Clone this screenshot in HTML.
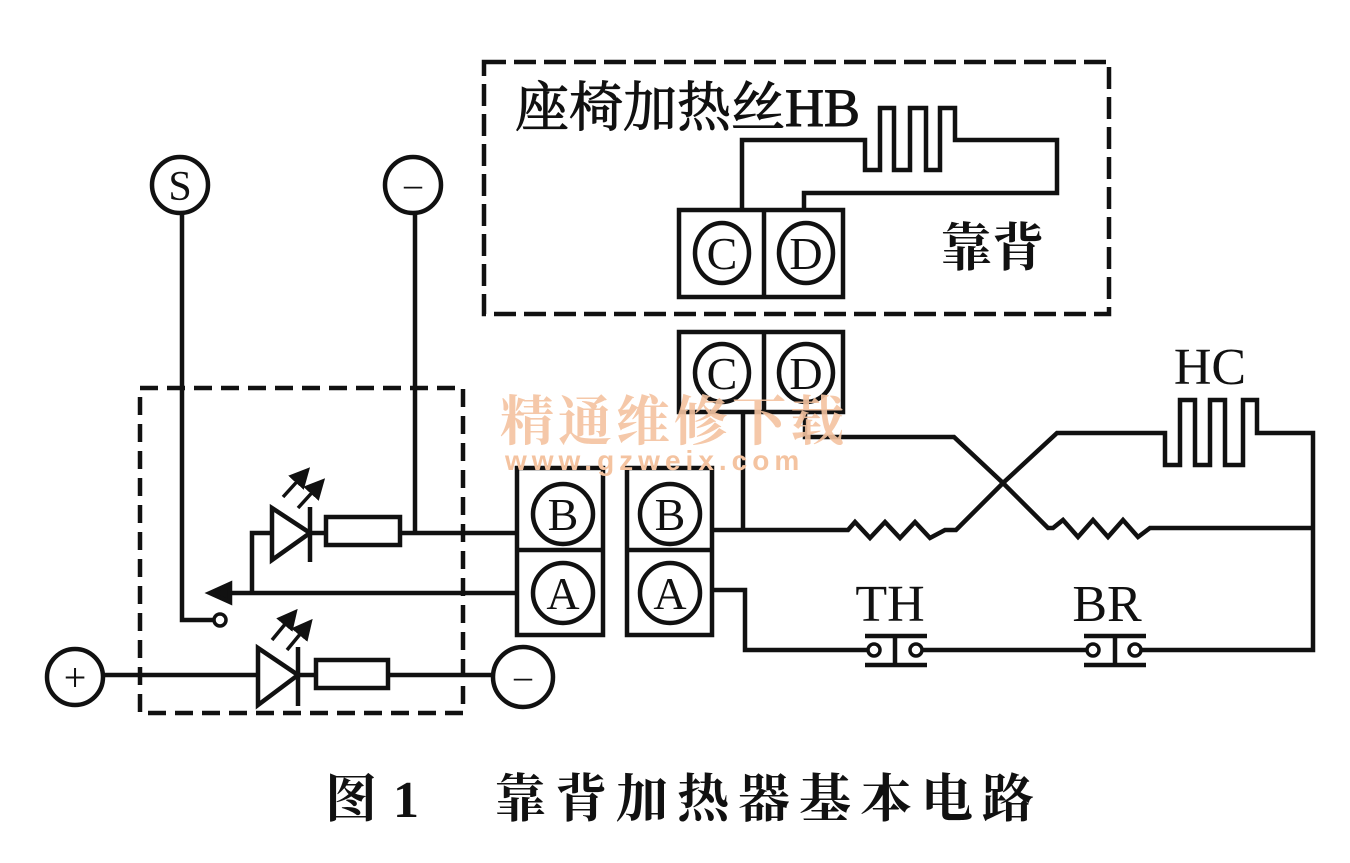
<!DOCTYPE html>
<html><head><meta charset="utf-8"><style>
html,body{margin:0;padding:0;background:#fff;}
svg{display:block;}
.cjk{font-family:"Liberation Serif","Noto Serif CJK SC","Noto Sans CJK SC",serif;}
.ser{font-family:"Liberation Serif",serif;}
</style></head><body>
<svg width="1350" height="863" viewBox="0 0 1350 863" xmlns="http://www.w3.org/2000/svg">
<defs><marker id="ah" markerWidth="6" markerHeight="6" refX="3" refY="3" orient="auto" markerUnits="strokeWidth"><path d="M0,0 L6,3 L0,6 z" fill="#111"/></marker></defs>
<g fill="none" stroke="#111" stroke-width="4.5" stroke-linejoin="miter">
<rect x="484" y="62" width="625" height="252" stroke-dasharray="22,8"/>
<polyline points="742,210 742,140 865,140 865,170 880,170 880,108 894,108 894,170 910,170 910,108 926,108 926,170 940,170 940,108 955,108 955,140 1057,140 1057,193 804,193 804,210"/>
<rect x="679" y="210" width="164" height="87"/>
<line x1="764" y1="210" x2="764" y2="297"/>
<ellipse cx="722" cy="253" rx="27" ry="30"/>
<ellipse cx="806" cy="253" rx="27" ry="30"/>
<rect x="679" y="332" width="164" height="80"/>
<line x1="764" y1="332" x2="764" y2="412"/>
<ellipse cx="722" cy="373" rx="27" ry="29"/>
<ellipse cx="806" cy="373" rx="27" ry="29"/>
<rect x="140" y="388" width="323" height="325" stroke-dasharray="18,9"/>
<circle cx="180" cy="185" r="28"/>
<circle cx="413" cy="185" r="28"/>
<polyline points="182,213 182,620 213,620"/>
<circle cx="220" cy="620" r="6" stroke-width="3.5"/>
<line x1="415" y1="213" x2="415" y2="533"/>
<line x1="225" y1="593" x2="518" y2="593"/>
<polygon points="210,593 230,584 230,602" fill="#111"/>
<polyline points="252,593 252,533 272,533"/>
<polygon points="272,508 310,533 272,560" />
<line x1="310" y1="507" x2="310" y2="562"/>
<line x1="310" y1="533" x2="326" y2="533"/>
<rect x="326" y="517" width="74" height="28"/>
<line x1="400" y1="533" x2="518" y2="533"/>
<g stroke-width="3.5" marker-end="url(#ah)">
<line x1="283" y1="497" x2="303" y2="475"/>
<line x1="298" y1="508" x2="318" y2="486"/>
<line x1="272" y1="640" x2="291" y2="617"/>
<line x1="287" y1="650" x2="306" y2="627"/>
</g>
<circle cx="75" cy="677" r="28"/>
<line x1="103" y1="675" x2="258" y2="675"/>
<polygon points="258,648 298,675 258,705"/>
<line x1="298" y1="647" x2="298" y2="706"/>
<line x1="298" y1="675" x2="316" y2="675"/>
<rect x="316" y="660" width="72" height="28"/>
<line x1="388" y1="675" x2="493" y2="675"/>
<circle cx="523" cy="677" r="30"/>
<rect x="517" y="468" width="86" height="167"/>
<line x1="517" y1="550" x2="603" y2="550"/>
<circle cx="563" cy="514" r="30"/>
<circle cx="563" cy="593" r="30"/>
<rect x="627" y="468" width="85" height="167"/>
<line x1="627" y1="550" x2="712" y2="550"/>
<circle cx="670" cy="514" r="30"/>
<circle cx="670" cy="593" r="30"/>
<line x1="743" y1="412" x2="743" y2="530"/>
<polyline points="805,412 805,437 954,437 1003,483 1048,528 1053,528 1063,520 1078,537 1093,520 1108,537 1123,520 1138,537 1150,528 1313,528"/>
<polyline points="712,530 848,530 855,522 870,538 885,522 900,538 915,522 930,538 945,530 956,530 1003,483 1057,433 1165,433 1165,465 1180,465 1180,400 1195,400 1195,465 1210,465 1210,400 1225,400 1225,465 1243,465 1243,400 1257,400 1257,433 1313,433 1313,650 1140,650"/>
<polyline points="712,590 745,590 745,650 868,650"/>
<line x1="922" y1="650" x2="1088" y2="650"/>
<circle cx="874" cy="650" r="6" stroke-width="3.5"/>
<circle cx="916" cy="650" r="6" stroke-width="3.5"/>
<line x1="865" y1="636" x2="927" y2="636"/>
<line x1="865" y1="665" x2="927" y2="665"/>
<line x1="895" y1="636" x2="895" y2="665"/>
<circle cx="1093" cy="650" r="6" stroke-width="3.5"/>
<circle cx="1135" cy="650" r="6" stroke-width="3.5"/>
<line x1="1084" y1="636" x2="1146" y2="636"/>
<line x1="1084" y1="665" x2="1146" y2="665"/>
<line x1="1115" y1="636" x2="1115" y2="665"/>
</g>
<g fill="#111" class="ser" text-anchor="middle">
<text x="180" y="200" font-size="42">S</text>
<text x="413" y="196" font-size="36">–</text>
<text x="75" y="691" font-size="40">+</text>
<text x="523" y="688" font-size="36">–</text>
<text x="722" y="269" font-size="46">C</text>
<text x="806" y="269" font-size="46">D</text>
<text x="722" y="389" font-size="46">C</text>
<text x="806" y="389" font-size="46">D</text>
<text x="563" y="530" font-size="46">B</text>
<text x="563" y="609" font-size="46">A</text>
<text x="670" y="530" font-size="46">B</text>
<text x="670" y="609" font-size="46">A</text>
<text x="890" y="621" font-size="52">TH</text>
<text x="1107" y="621" font-size="52">BR</text>
<text x="1210" y="384" font-size="52">HC</text>
</g>
<text x="515" y="126" font-size="54" class="cjk" fill="#111" stroke="#111" stroke-width="1">座椅加热丝<tspan class="ser">HB</tspan></text>
<text x="940" y="266" font-size="52" font-weight="bold" class="cjk" fill="#111">靠背</text>
<text x="500" y="440" font-size="54" font-weight="bold" class="cjk" fill="#f4c3a0" opacity="0.9" letter-spacing="4">精通维修下载</text>
<text x="505" y="470" font-size="28" font-weight="bold" font-family="Liberation Sans, sans-serif" fill="#f4c3a0" letter-spacing="5">www.gzweix.com</text>
<text x="325" y="817" font-size="52" font-weight="bold" class="cjk" fill="#111">图</text>
<text x="393" y="817" font-size="52" font-weight="bold" class="ser" fill="#111">1</text>
<text x="494" y="817" font-size="52" font-weight="bold" class="cjk" fill="#111" letter-spacing="9">靠背加热器基本电路</text>
</svg>
</body></html>
